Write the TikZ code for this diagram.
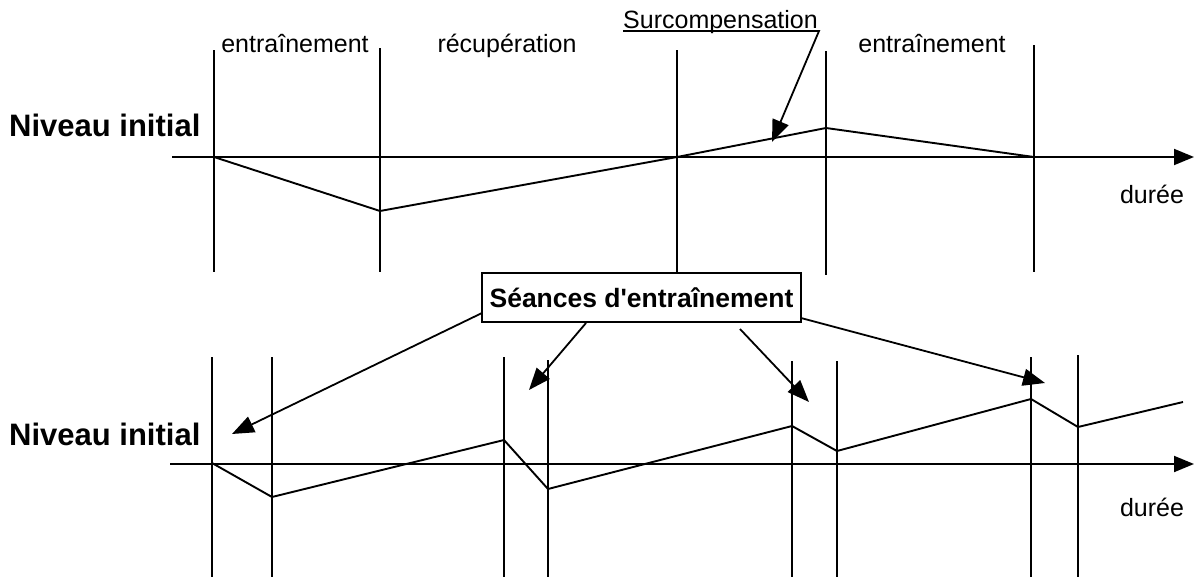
\documentclass[tikz,border=0pt]{standalone}
\usepackage{fontspec}
\setmainfont{Liberation Sans}[Ligatures=TeXOff]
\usetikzlibrary{arrows.meta}
\begin{document}
\begin{tikzpicture}[x=1pt,y=-1pt,
  ln/.style={line width=1.9pt,line join=miter},
  vline/.style={line width=1.8pt},
  arr/.style={line width=1.8pt,-{Triangle[length=22pt,width=17pt]}},
  axis/.style={line width=1.9pt,-{Triangle[length=20pt,width=16pt]}},
  lbl/.style={inner sep=0pt,font=\fontsize{25}{30}\selectfont},
  big/.style={inner sep=0pt,font=\fontsize{31}{36}\selectfont\bfseries},
  boxed/.style={draw,line width=1.6pt,inner sep=0pt,minimum width=319pt,minimum height=49pt,font=\fontsize{26.5}{32}\selectfont\bfseries}]
\useasboundingbox (0,0) rectangle (1195,581);
% ---------- top chart ----------
\coordinate (a0) at (172,157);
\coordinate (a1) at (1194,157);
\draw[axis] (a0) -- (a1);
\foreach \x/\t/\b in {214/50/272,380/48/272,677/50/273,826/51/275,1034/45/272}
  \draw[vline] (\x,\t) -- (\x,\b);
\draw[ln] (214,157) -- (380,211) -- (677,157) -- (826,128) -- (1034,157);
\node[lbl,anchor=base] (t1) at (295,52) {entraînement};
\node[lbl,anchor=base] (t2) at (507,52) {récupération};
\node[lbl,anchor=base] (t3) at (932,52) {entraînement};
\node[lbl,anchor=base west] (surc) at (623,28) {Surcompensation};
\coordinate (ul) at (819,31);
\coordinate (sTip) at (772,142);
\draw[arr] ([yshift=-3pt]surc.base west) -- (ul) -- (sTip);
\node[big,anchor=base west] (n1) at (9,136) {Niveau initial};
\node[lbl,anchor=base] (d1) at (1152,203) {durée};
% ---------- bottom chart ----------
\coordinate (b0) at (170,464);
\coordinate (b1) at (1194,464);
\draw[axis] (b0) -- (b1);
\foreach \x/\t in {212/357,272/357,504/357,548/360,792/361,837/361,1031/357,1078/355}
  \draw[vline] (\x,\t) -- (\x,577);
\draw[ln] (212,463) -- (272,497) -- (504,440) -- (548,489) -- (792,426) -- (837,451) -- (1031,399) -- (1078,427) -- (1183,402);
\node[big,anchor=base west] (n2) at (9,445) {Niveau initial};
\node[lbl,anchor=base] (d2) at (1152,516) {durée};
% ---------- box and arrows ----------
\node[boxed] (box) at (641.5,297.5) {Séances d'entraînement};
\coordinate (s1) at (482,313);
\coordinate (e1) at (232,434);
\coordinate (s2) at (586,323);
\coordinate (e2) at (529,390);
\coordinate (s3) at (740,329);
\coordinate (e3) at (809,402);
\coordinate (s4) at (801,318);
\coordinate (e4) at (1045,383);
\draw[arr] (s1) -- (e1);
\draw[arr] (s2) -- (e2);
\draw[arr] (s3) -- (e3);
\draw[arr] (s4) -- (e4);
\end{tikzpicture}
\end{document}
